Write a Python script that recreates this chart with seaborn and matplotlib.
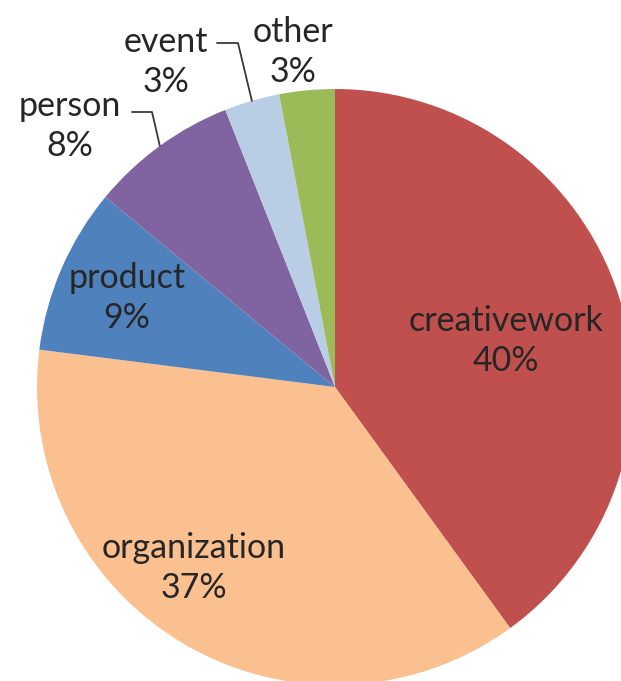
import numpy as np
import matplotlib
matplotlib.use("Agg")
import matplotlib.pyplot as plt
import seaborn as sns

# Share of entity types
categories = ["creativework", "organization", "product", "person", "event", "other"]
shares = [40, 37, 9, 8, 3, 3]
colors = ["#C0504D", "#FAC090", "#4F81BD", "#8064A2", "#B9CDE5", "#9BBB59"]

sns.set_theme(style="white")
plt.rcParams["font.family"] = ["Lato", "DejaVu Sans"]

W, H = 621, 681
fig = plt.figure(figsize=(W / 100, H / 100), dpi=100)
fig.patch.set_facecolor("white")

# pie centre (335, 387) px, radius 298 px
cx, cy, r = 335, 387, 298
ax = fig.add_axes([(cx - r) / W, (H - cy - r) / H, 2 * r / W, 2 * r / H])
ax.axis("off")

wedges, _ = ax.pie(shares, colors=colors, startangle=90, counterclock=False,
                   radius=1, wedgeprops=dict(linewidth=0))
for w in wedges:
    w.set_clip_on(False)
ax.set_xlim(-1, 1)
ax.set_ylim(-1, 1)


def px(x, y):
    return (x - cx) / r, (cy - y) / r


# label centres in pixel space
label_pos = {
    "creativework": (506, 341),
    "organization": (194, 568),
    "product": (127, 298),
    "person": (70, 126),
    "event": (166, 62),
    "other": (293, 52),
}
txt_color = "#262626"
for cat, val in zip(categories, shares):
    x, y = px(*label_pos[cat])
    ax.text(x, y, f"{cat}\n{val}%", ha="center", va="center", fontsize=24.5,
            color=txt_color, linespacing=1.32, clip_on=False)

# leader lines for the small outer labels
leaders = {"person": [(132, 112), (152, 112)], "event": [(217, 43), (238, 43)]}
for cat, pts in leaders.items():
    i = categories.index(cat)
    w = wedges[i]
    mid = np.deg2rad((w.theta1 + w.theta2) / 2)
    pts_d = [px(*p) for p in pts] + [(np.cos(mid), np.sin(mid))]
    xs, ys = zip(*pts_d)
    ax.plot(xs, ys, color="#3a3a3a", lw=1.3, clip_on=False)

fig.savefig("out.png", dpi=100, facecolor="white")
